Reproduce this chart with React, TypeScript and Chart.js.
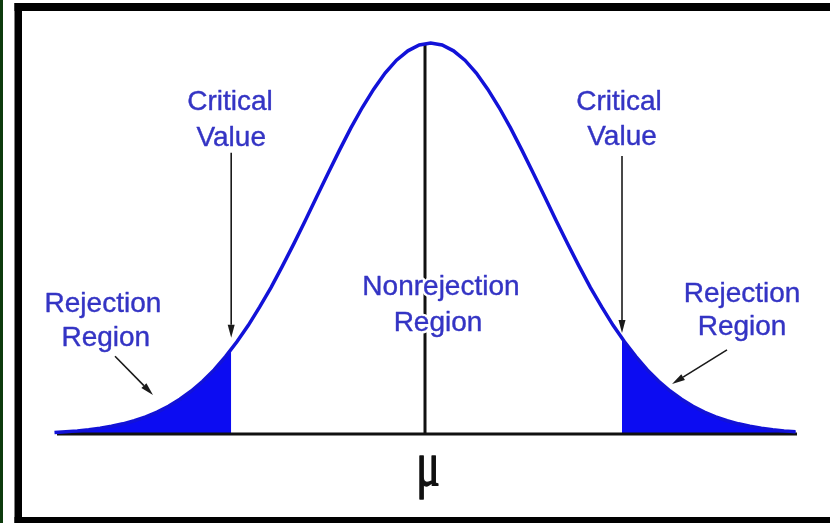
import React, { useEffect, useRef } from "react";
import { Chart, registerables } from "chart.js";

Chart.register(...registerables);

// Curve positions (in standard-deviation-like units, μ at 0) and relative heights
const CURVE_X = [
  -3.25, -3.15, -3.05, -2.95, -2.85, -2.75, -2.65, -2.55, -2.45, -2.35, -2.25,
  -2.15, -2.05, -1.95, -1.85, -1.75, -1.65, -1.55, -1.45, -1.35, -1.25, -1.15,
  -1.05, -0.95, -0.85, -0.75, -0.65, -0.55, -0.45, -0.35, -0.25, -0.15, -0.05,
  0.05, 0.15, 0.25, 0.35, 0.45, 0.55, 0.65, 0.75, 0.85, 0.95, 1.05, 1.15, 1.25,
  1.35, 1.45, 1.55, 1.65, 1.75, 1.85, 1.95, 2.05, 2.15, 2.25, 2.35, 2.45, 2.55,
  2.65, 2.75, 2.85, 2.95, 3.05, 3.15, 3.25,
];
const CURVE_Y = [
  0.004, 0.006, 0.008, 0.011, 0.015, 0.02, 0.026, 0.034, 0.044, 0.056, 0.071,
  0.089, 0.11, 0.135, 0.164, 0.198, 0.236, 0.278, 0.325, 0.375, 0.43, 0.487,
  0.546, 0.607, 0.667, 0.726, 0.783, 0.835, 0.882, 0.923, 0.956, 0.98, 0.995,
  1.0, 0.995, 0.98, 0.956, 0.923, 0.882, 0.835, 0.783, 0.726, 0.667, 0.607,
  0.546, 0.487, 0.43, 0.375, 0.325, 0.278, 0.236, 0.198, 0.164, 0.135, 0.11,
  0.089, 0.071, 0.056, 0.044, 0.034, 0.026, 0.02, 0.015, 0.011, 0.008, 0.006,
];

const X_MIN = -3.228;
const X_MAX = 3.263;
const MU_X = 0;
const PEAK_Y = 1;
const CRITICAL_X = [-1.7, 1.728];
const CRITICAL_Y = [0.217, 0.244];

// Annotation anchors in data units
const LABELS = [
  { text: "Critical", x: -1.711, y: 0.829 },
  { text: "Value", x: -1.7, y: 0.737 },
  { text: "Critical", x: 1.702, y: 0.829 },
  { text: "Value", x: 1.728, y: 0.739 },
  { text: "Rejection", x: -2.825, y: 0.312 },
  { text: "Region", x: -2.8, y: 0.225 },
  { text: "Nonrejection", x: 0.14, y: 0.355 },
  { text: "Region", x: 0.114, y: 0.263 },
  { text: "Rejection", x: 2.781, y: 0.338 },
  { text: "Region", x: 2.781, y: 0.253 },
];
const ARROWS = [
  { x0: -1.7, y0: 0.719, x1: -1.7, y1: 0.246 },
  { x0: 1.728, y0: 0.711, x1: 1.728, y1: 0.258 },
  { x0: -2.719, y0: 0.199, x1: -2.386, y1: 0.1 },
  { x0: 2.649, y0: 0.215, x1: 2.167, y1: 0.128 },
];
const MU_LABEL = { text: "μ", x: 0.026, y: -0.13 };

const decorPlugin = {
  id: "decor",
  beforeDraw(chart: any) {
    const { ctx, width, height } = chart;
    ctx.save();
    ctx.fillStyle = "#ffffff";
    ctx.fillRect(0, 0, width, height);
    ctx.fillStyle = "#0d3b0d";
    ctx.fillRect(0, 0, 3, height);
    ctx.fillStyle = "#000000";
    ctx.fillRect(14.5, 3, width - 14.5, 8);
    ctx.fillRect(14.5, 3, 7.5, height - 3);
    ctx.fillRect(14.5, 517, width - 14.5, 6);
    ctx.restore();
  },
  afterDatasetsDraw(chart: any) {
    const { ctx } = chart;
    const xs = chart.scales.x;
    const ys = chart.scales.y;
    ctx.save();
    // arrows
    ctx.strokeStyle = "#1a1a1a";
    ctx.fillStyle = "#1a1a1a";
    ctx.lineWidth = 1.6;
    for (const a of ARROWS) {
      const px0 = xs.getPixelForValue(a.x0);
      const py0 = ys.getPixelForValue(a.y0);
      const px1 = xs.getPixelForValue(a.x1);
      const py1 = ys.getPixelForValue(a.y1);
      const ang = Math.atan2(py1 - py0, px1 - px0);
      const len = 13;
      const hw = 3.5;
      const bx = px1 - len * Math.cos(ang);
      const by = py1 - len * Math.sin(ang);
      ctx.beginPath();
      ctx.moveTo(px0, py0);
      ctx.lineTo(bx, by);
      ctx.stroke();
      ctx.beginPath();
      ctx.moveTo(px1, py1);
      ctx.lineTo(bx + hw * Math.sin(ang), by - hw * Math.cos(ang));
      ctx.lineTo(bx - hw * Math.sin(ang), by + hw * Math.cos(ang));
      ctx.closePath();
      ctx.fill();
    }
    // labels
    ctx.font = '28px "Liberation Sans", Arial, sans-serif';
    ctx.textAlign = "center";
    ctx.textBaseline = "alphabetic";
    ctx.lineJoin = "round";
    for (const l of LABELS) {
      const px = xs.getPixelForValue(l.x);
      const py = ys.getPixelForValue(l.y);
      ctx.strokeStyle = "#ffffff";
      ctx.lineWidth = 5;
      ctx.strokeText(l.text, px, py);
      ctx.fillStyle = "#3434c4";
      ctx.strokeStyle = "#3434c4";
      ctx.lineWidth = 0.4;
      ctx.fillText(l.text, px, py);
      ctx.strokeText(l.text, px, py);
    }
    // mu
    const mx = xs.getPixelForValue(MU_LABEL.x);
    const my = ys.getPixelForValue(MU_LABEL.y);
    ctx.translate(mx, my);
    ctx.scale(1, 1.45);
    ctx.font = '44px "Liberation Serif", "Times New Roman", serif';
    ctx.fillStyle = "#111111";
    ctx.strokeStyle = "#111111";
    ctx.lineWidth = 1;
    ctx.fillText(MU_LABEL.text, 0, 0);
    ctx.strokeText(MU_LABEL.text, 0, 0);
    ctx.restore();
  },
};

export default function App() {
  const ref = useRef<HTMLCanvasElement>(null);

  useEffect(() => {
    if (!ref.current) return;
    const curve = CURVE_X.map((x, i) => ({ x, y: CURVE_Y[i] }));
    const leftTail = [
      ...curve.filter((p) => p.x < CRITICAL_X[0]),
      { x: CRITICAL_X[0], y: CRITICAL_Y[0] },
    ];
    const rightTail = [
      { x: CRITICAL_X[1], y: CRITICAL_Y[1] },
      ...curve.filter((p) => p.x > CRITICAL_X[1]),
    ];
    const chart = new Chart(ref.current, {
      type: "line",
      data: {
        datasets: [
          {
            label: "curve",
            data: curve,
            borderColor: "#1212d8",
            borderWidth: 3.5,
            pointRadius: 0,
            fill: false,
            tension: 0,
            order: 0,
            clip: false,
          } as any,
          {
            label: "baseline",
            data: [
              { x: X_MIN, y: 0 },
              { x: X_MAX, y: 0 },
            ],
            borderColor: "#111111",
            borderWidth: 3,
            pointRadius: 0,
            fill: false,
            order: 1,
            clip: false,
          } as any,
          {
            label: "mu",
            data: [
              { x: MU_X, y: 0 },
              { x: MU_X, y: PEAK_Y },
            ],
            borderColor: "#111111",
            borderWidth: 3,
            pointRadius: 0,
            fill: false,
            order: 1,
            clip: false,
          } as any,
          {
            label: "leftTail",
            data: leftTail,
            borderColor: "#0c0cf2",
            backgroundColor: "#0c0cf2",
            borderWidth: 1,
            pointRadius: 0,
            fill: "origin",
            order: 2,
          } as any,
          {
            label: "rightTail",
            data: rightTail,
            borderColor: "#0c0cf2",
            backgroundColor: "#0c0cf2",
            borderWidth: 1,
            pointRadius: 0,
            fill: "origin",
            order: 2,
          } as any,
        ],
      },
      options: {
        animation: false,
        responsive: false,
        maintainAspectRatio: false,
        devicePixelRatio: 1,
        layout: { padding: { left: 57, right: 33, top: 43, bottom: 89 } },
        scales: {
          x: { type: "linear", min: X_MIN, max: X_MAX, display: false },
          y: { type: "linear", min: 0, max: 1, display: false },
        },
        plugins: {
          legend: { display: false },
          tooltip: { enabled: false },
        },
      },
      plugins: [decorPlugin],
    });
    return () => chart.destroy();
  }, []);

  return (
    <div style={{ position: "fixed", left: 0, top: 0, width: 830, height: 523 }}>
      <canvas ref={ref} width={830} height={523} style={{ width: 830, height: 523, display: "block" }} />
    </div>
  );
}
